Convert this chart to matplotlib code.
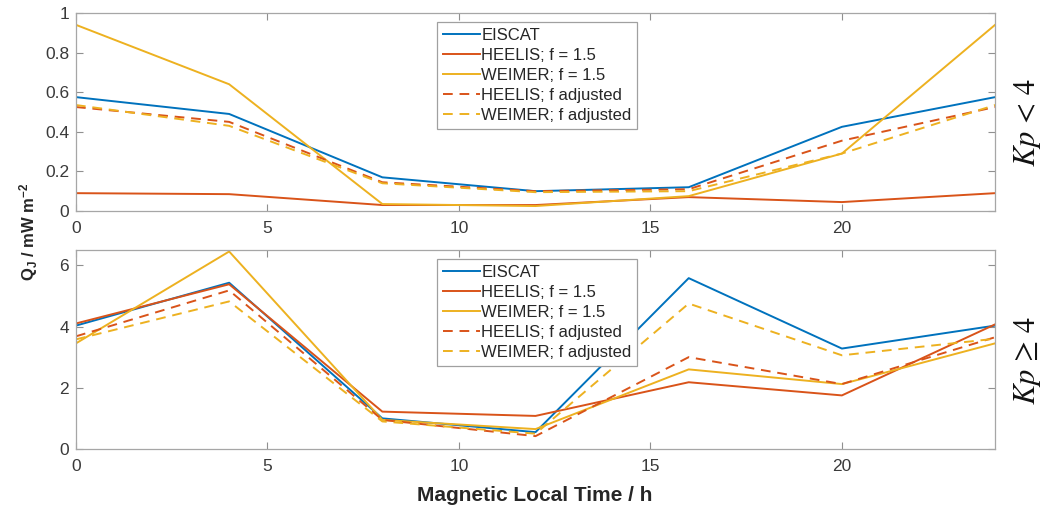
import numpy as np
import matplotlib.pyplot as plt

plt.rcParams['font.family'] = ['Liberation Sans', 'DejaVu Sans']
plt.rcParams['mathtext.fontset'] = 'custom'
plt.rcParams['mathtext.rm'] = 'Liberation Sans:bold'
plt.rcParams['mathtext.it'] = 'Liberation Sans:bold'
plt.rcParams['mathtext.bf'] = 'Liberation Sans:bold'

mlt = [0, 4, 8, 12, 16, 20, 24]

# Kp < 4
eiscat_lo = [0.575, 0.49, 0.17, 0.10, 0.12, 0.425, 0.575]
heelis_lo = [0.09, 0.085, 0.03, 0.03, 0.07, 0.045, 0.09]
weimer_lo = [0.94, 0.64, 0.035, 0.025, 0.075, 0.29, 0.94]
heelis_adj_lo = [0.525, 0.45, 0.145, 0.10, 0.11, 0.355, 0.525]
weimer_adj_lo = [0.535, 0.43, 0.14, 0.095, 0.10, 0.29, 0.535]

# Kp >= 4
eiscat_hi = [4.03, 5.43, 1.0, 0.55, 5.58, 3.28, 4.03]
heelis_hi = [4.1, 5.38, 1.22, 1.08, 2.18, 1.75, 4.07]
weimer_hi = [3.45, 6.45, 0.95, 0.65, 2.6, 2.12, 3.45]
heelis_adj_hi = [3.68, 5.18, 0.95, 0.42, 3.0, 2.12, 3.65]
weimer_adj_hi = [3.58, 4.82, 0.9, 0.5, 4.75, 3.06, 3.6]

labels = ['EISCAT', 'HEELIS; f = 1.5', 'WEIMER; f = 1.5',
          'HEELIS; f adjusted', 'WEIMER; f adjusted']

blue = '#0072BD'
red = '#D95319'
yellow = '#EDB120'
dash = (0, (5, 3.5))


def draw(ax, series, ymax, yticks):
    ax.plot(mlt, series[0], color=blue, lw=1.4, label=labels[0])
    ax.plot(mlt, series[1], color=red, lw=1.4, label=labels[1])
    ax.plot(mlt, series[2], color=yellow, lw=1.4, label=labels[2])
    ax.plot(mlt, series[3], color=red, lw=1.4, ls=dash, label=labels[3])
    ax.plot(mlt, series[4], color=yellow, lw=1.4, ls=dash, label=labels[4])
    ax.set_xlim(0, 24)
    ax.set_ylim(0, ymax)
    ax.set_xticks([0, 5, 10, 15, 20])
    ax.set_yticks(yticks)
    ax.tick_params(direction='in', top=True, right=True, length=5,
                   width=0.8, color='#909090', labelsize=12.5,
                   labelcolor='#3a3a3a')
    ax.tick_params(axis='x', pad=7)
    ax.tick_params(axis='y', pad=5)
    for s in ax.spines.values():
        s.set_color('#a6a6a6')
        s.set_linewidth(0.9)
    leg = ax.legend(loc='upper left', bbox_to_anchor=(0.393, 0.955),
                    fontsize=12, fancybox=False, framealpha=1,
                    edgecolor='#a0a0a0', labelspacing=0.3, borderpad=0.35,
                    handletextpad=0.1, handlelength=2.2, borderaxespad=0)
    leg.get_frame().set_linewidth(0.9)
    for t in leg.get_texts():
        t.set_color('#262626')


fig = plt.figure(figsize=(10.48, 5.09), dpi=100)
ax1 = fig.add_axes([0.0725, 0.5855, 0.877, 0.389])
ax2 = fig.add_axes([0.0725, 0.1179, 0.877, 0.391])

draw(ax1, [eiscat_lo, heelis_lo, weimer_lo, heelis_adj_lo, weimer_adj_lo],
     1, [0, 0.2, 0.4, 0.6, 0.8, 1])
ax1.set_yticklabels(['0', '0.2', '0.4', '0.6', '0.8', '1'])
draw(ax2, [eiscat_hi, heelis_hi, weimer_hi, heelis_adj_hi, weimer_adj_hi],
     6.5, [0, 2, 4, 6])

fig.text(0.027, 0.544, r'Q$_{J}$ / mW m$^{-2}$', rotation=90, ha='center',
         va='center', fontsize=12, fontweight='bold', color='#262626')
fig.text(0.51, 0.027, 'Magnetic Local Time / h', ha='center', va='center',
         fontsize=15, fontweight='bold', color='#262626')
fig.text(0.980, 0.760, r'$Kp\,<\,4$', rotation=90, ha='center', va='center',
         fontsize=22, math_fontfamily='stix', color='#111111')
fig.text(0.980, 0.291, r'$Kp\,\geq\,4$', rotation=90, ha='center',
         va='center', fontsize=22, math_fontfamily='stix', color='#111111')

fig.savefig('out.png', dpi=100)
